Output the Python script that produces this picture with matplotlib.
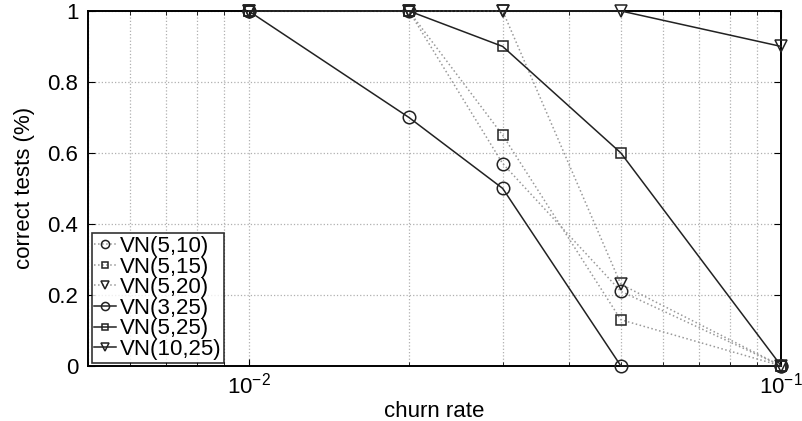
import numpy as np
import matplotlib
matplotlib.use("Agg")
import matplotlib.pyplot as plt
from matplotlib.ticker import FuncFormatter

plt.rcParams['font.family'] = ['Liberation Sans', 'DejaVu Sans']

churn = [0.01, 0.02, 0.03, 0.05, 0.1]

vn_5_10 = [1, 1, 0.57, 0.21, 0]
vn_5_15 = [1, 1, 0.65, 0.13, 0]
vn_5_20 = [1, 1, 1, 0.23, 0]
vn_3_25 = [1, 0.70, 0.50, 0, 0]
vn_5_25 = [1, 1, 0.90, 0.60, 0]
vn_10_25 = [1, 1, 1, 1, 0.90]

series = [
    ("VN(5,10)", vn_5_10, "o", ":", "#999999"),
    ("VN(5,15)", vn_5_15, "s", ":", "#999999"),
    ("VN(5,20)", vn_5_20, "v", ":", "#999999"),
    ("VN(3,25)", vn_3_25, "o", "-", "#222222"),
    ("VN(5,25)", vn_5_25, "s", "-", "#222222"),
    ("VN(10,25)", vn_10_25, "v", "-", "#222222"),
]

fig = plt.figure(figsize=(8.02, 4.21), dpi=100)
ax = fig.add_axes([0.110, 0.131, 0.864, 0.843])

for name, vals, mk, ls, col in series:
    ax.plot(churn, vals, linestyle=ls, color=col, linewidth=1.1,
            marker=mk, markersize=7 if mk == "s" else 9,
            markerfacecolor="none", markeredgecolor="#222222",
            markeredgewidth=1.1, label=name, clip_on=False, zorder=3)

ax.set_xscale("log")
ax.set_xlim(0.005, 0.1)
ax.set_ylim(0, 1)
ax.set_yticks([0, 0.2, 0.4, 0.6, 0.8, 1])
ax.set_yticklabels(["0", "0.2", "0.4", "0.6", "0.8", "1"])
ax.xaxis.set_major_formatter(FuncFormatter(
    lambda v, p: r"$\mathregular{10^{%d}}$" % round(np.log10(v))))
ax.grid(True, which="both", linestyle=":", color="#b0b0b0", linewidth=0.9)
ax.tick_params(which="both", direction="in", labelsize=16, top=True, right=True)
ax.tick_params(axis="y", pad=7)
ax.tick_params(axis="x", pad=5)
ax.tick_params(which="major", length=5)
ax.tick_params(which="minor", length=3)
for sp in ax.spines.values():
    sp.set_linewidth(1.4)

ax.set_xlabel("churn rate", fontsize=16, labelpad=2)
ax.set_ylabel("correct tests (%)", fontsize=16, labelpad=9)

leg = ax.legend(loc="lower left", fontsize=16, frameon=True, fancybox=False,
                handlelength=1.0, handletextpad=0.15, borderpad=0.12,
                labelspacing=-0.02, borderaxespad=0.15, markerscale=0.65)
leg.get_frame().set_edgecolor("black")
leg.get_frame().set_linewidth(1.2)

fig.savefig("out.png", dpi=100)
